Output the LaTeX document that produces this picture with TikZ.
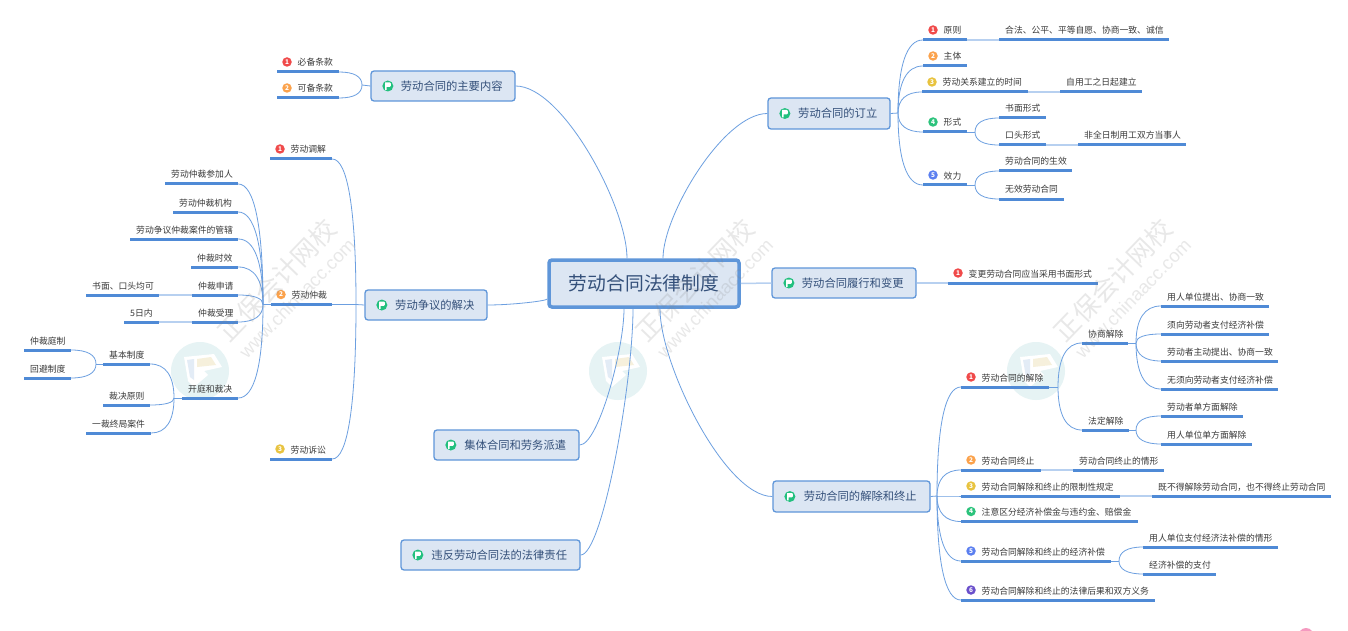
\documentclass[tikz,border=0pt]{standalone}
\usepackage{fontspec}
\usepackage{xcolor}
\usetikzlibrary{shapes,arrows,positioning,calc}
\setmainfont{Noto Sans CJK SC}
\newfontfamily\markfont{Liberation Sans}
\definecolor{barblue}{HTML}{4F8AD6}
\definecolor{linkblue}{HTML}{6C9FE0}
\definecolor{paleblue}{HTML}{B7D0F0}
\definecolor{topicfill}{HTML}{DCE6F3}
\definecolor{topicline}{HTML}{5F96D9}
\definecolor{topicink}{HTML}{34507A}
\definecolor{leafink}{HTML}{3A3A3A}
\definecolor{flaggreen}{HTML}{22C07E}
\definecolor{badge1}{HTML}{F04A4A}
\definecolor{badge2}{HTML}{FBA24C}
\definecolor{badge3}{HTML}{E8C33F}
\definecolor{badge4}{HTML}{2CC37C}
\definecolor{badge5}{HTML}{5B7FF0}
\definecolor{badge6}{HTML}{6A4FCB}
\definecolor{logoteal}{HTML}{E6F3F4}
\definecolor{logoblue}{HTML}{E3ECF6}
\definecolor{logosand}{HTML}{F6F0DC}
\definecolor{markpink}{HTML}{F59AC0}
\tikzset{
    x=1pt,y=-1pt,
    link/.style={linkblue,line width=0.8pt},
    palelink/.style={paleblue,line width=1.5pt},
    elbow/.style={to path={.. controls ($(\tikztostart)!0.65!(\tikztostart |- \tikztotarget)$) and ($(\tikztotarget)!0.65!(\tikztostart |- \tikztotarget)$) .. (\tikztotarget)}},
    softelbow/.style={to path={.. controls ($(\tikztostart)!0.3!(\tikztostart |- \tikztotarget)$) and ($(\tikztotarget)!0.42!(\tikztostart |- \tikztotarget)$) .. (\tikztotarget)}},
    leafbar/.style={fill=barblue,inner sep=0pt,minimum height=3pt},
    leaftext/.style={text=leafink,font=\fontsize{8.8}{9}\selectfont,inner sep=0pt,anchor=base west},
    badgedot/.style={circle,inner sep=0pt,minimum size=9.5pt,text=white,font=\fontsize{6.5}{6.5}\selectfont\bfseries},
    topicbox/.style={draw=topicline,fill=topicfill,rounded corners=3pt,line width=1.3pt,inner sep=0pt,text=topicink,font=\fontsize{11.3}{12}\selectfont},
    flagdot/.style={circle,fill=flaggreen,inner sep=0pt,minimum size=11pt},
}
\begin{document}
\begin{tikzpicture}
    \useasboundingbox (0,0) rectangle (1348,631);
    \fill[white] (0,0) rectangle (1348,631);
    % pale round logos behind everything
    \foreach \wm in {0,418,836}
    {
        \node[circle,fill=logoteal,inner sep=0pt,minimum size=58pt] (logo\wm) at (200+\wm,371) {};
        \fill[white,shift={(logo\wm)}] (-16,-14) -- (14,-17) -- (22,-4) -- (4,0) -- (8,4) -- (-6,16) -- (-12,10) -- cycle;
        \fill[logoblue,shift={(logo\wm)}] (-13,-11) -- (-6,-12) -- (-6,9) -- (-10,6) -- cycle;
        \fill[logosand,shift={(logo\wm)}] (-3,-12) -- (11,-14) -- (16,-6) -- (-3,-4) -- cycle;
    }
    % central topic
    \node[topicbox,line width=3.5pt,minimum width=190pt,minimum height=47pt,font=\fontsize{18.8}{20}\selectfont] (hub) at (644,283.5) {劳动合同法律制度};
    % main topics with flag icon
    \foreach \name/\xa/\xb/\ya/\yb/\txt in {
        sign/768/890/98/129/劳动合同的订立,
        change/772/916/268/298/劳动合同履行和变更,
        finish/773/930/481/512/劳动合同的解除和终止,
        terms/371/515/71/101/劳动合同的主要内容,
        dispute/365/487/290/320/劳动争议的解决,
        group/434/579/430/460/集体合同和劳务派遣,
        breach/401/580/540/570/违反劳动合同法的法律责任}
    {
        \node[topicbox,minimum width={(\xb-\xa)*1pt},minimum height={(\yb-\ya)*1pt}] (\name) at ({(\xa+\xb)/2},{(\ya+\yb)/2}) {\hspace*{17.5pt}\txt};
        \node[flagdot] (\name i) at ([xshift=17.5pt]\name.west) {};
        \fill[white,shift={(\name i)}] (-2.8,3.8) -- (-2.8,-3.5) -- (2,-3.5) .. controls (3.5,-3.5) and (3.5,0.8) .. (2,0.8) -- (-1.2,0.8) -- (-1.2,3.8) -- cycle;
    }
    % leaves without number
    \foreach \name/\xa/\xb/\yb/\txt in {
        signAa/999/1169/40/合法、公平、平等自愿、协商一致、诚信,
        signCa/1060/1142/92/自用工之日起建立,
        signDa/999/1046/118/书面形式,
        signDb/999/1046/145/口头形式,
        signDc/1078/1186/145/非全日制用工双方当事人,
        signEa/999/1072/171/劳动合同的生效,
        signEb/999/1064/199/无效劳动合同,
        armA/165/238/184/劳动仲裁参加人,
        armB/173/238/212/劳动仲裁机构,
        armC/130/238/239/劳动争议仲裁案件的管辖,
        armD/191/238/267/仲裁时效,
        armE/192/238/295/仲裁申请,
        armEa/86/159/295/书面、口头均可,
        armF/192/238/322/仲裁受理,
        armFa/124/159/322/5日内,
        armG/182/238/398/开庭和裁决,
        armGa/103/150/364/基本制度,
        armGb/103/150/405/裁决原则,
        armGc/86/151/433/一裁终局案件,
        armGd/24/71/350/仲裁庭制,
        armGe/24/71/378/回避制度,
        talk/1082/1128/343/协商解除,
        legal/1082/1129/430/法定解除,
        talkA/1161/1269/306/用人单位提出、协商一致,
        talkB/1161/1269/334/须向劳动者支付经济补偿,
        talkC/1161/1278/361/劳动者主动提出、协商一致,
        talkD/1161/1278/389/无须向劳动者支付经济补偿,
        legalA/1161/1243/416/劳动者单方面解除,
        legalB/1161/1252/444/用人单位单方面解除,
        endA/1073/1164/470/劳动合同终止的情形,
        limitA/1152/1331/496/既不得解除劳动合同，也不得终止劳动合同,
        payA/1143/1278/547/用人单位支付经济法补偿的情形,
        payB/1143/1216/574/经济补偿的支付}
    {
        \node[leafbar,minimum width={(\xb-\xa)*1pt}] (\name) at ({(\xa+\xb)/2},\yb) {};
        \node[leaftext] (\name t) at ({\xa+6},{\yb-6}) {\txt};
    }
    % leaves with a number badge
    \foreach \name/\xa/\xb/\yb/\num/\txt in {
        signA/923/967/40/1/原则,
        signB/923/967/66/2/主体,
        signC/922/1028/92/3/劳动关系建立的时间,
        signD/923/967/132/4/形式,
        signE/923/967/185/5/效力,
        changeA/948/1098/283/1/变更劳动合同应当采用书面形式,
        termsA/277/339/72/1/必备条款,
        termsB/277/339/98/2/可备条款,
        mediate/270/332/159/1/劳动调解,
        arbitrate/271/332/304.5/2/劳动仲裁,
        sue/270/332/459/3/劳动诉讼,
        finishA/961/1049/387/1/劳动合同的解除,
        finishB/961/1041/470/2/劳动合同终止,
        finishC/961/1120/496/3/劳动合同解除和终止的限制性规定,
        finishD/961/1138/521.5/4/注意区分经济补偿金与违约金、赔偿金,
        finishE/961/1111/561/5/劳动合同解除和终止的经济补偿,
        finishF/961/1155/600/6/劳动合同解除和终止的法律后果和双方义务}
    {
        \node[leafbar,minimum width={(\xb-\xa)*1pt}] (\name) at ({(\xa+\xb)/2},\yb) {};
        \node[leaftext] (\name t) at ({\xa+20.5},{\yb-6}) {\txt};
        \node[badgedot,fill=badge\num] (\name n) at ({\xa+10},{\yb-10}) {\num};
    }
    % places where the curves split
    \coordinate (fanSign) at (898,113);
    \coordinate (fanForm) at (975,132);
    \coordinate (fanEffect) at (975,185);
    \coordinate (fanFinish) at (937,496);
    \coordinate (fanEnd) at (1058,387);
    \coordinate (fanTalk) at (1136,343);
    \coordinate (fanLegal) at (1136,430);
    \coordinate (fanPay) at (1119,561);
    \coordinate (fanTerms) at (362,85);
    \coordinate (fanDispute) at (356,304.5);
    \coordinate (fanArb) at (263,304.5);
    \coordinate (fanHear) at (174,398);
    \coordinate (fanBase) at (96,364);
    % curves from the central topic
    \coordinate (hubNW) at ([xshift=-17pt]hub.north);
    \coordinate (hubNE) at ([xshift=19pt]hub.north);
    \coordinate (hubW) at ([yshift=-15.5pt]hub.west);
    \coordinate (hubSA) at ([xshift=-20pt]hub.south);
    \coordinate (hubSB) at ([xshift=-11pt]hub.south);
    \coordinate (hubSC) at ([xshift=16pt]hub.south);
    \draw[link] (hubNW) to[softelbow] (terms.east);
    \draw[link] (hubNE) to[softelbow] (sign.west);
    \draw[link] (hubW) to[softelbow] (dispute.east);
    \draw[link] (hubSA) to[softelbow] (group.east);
    \draw[link] (hubSB) to[softelbow] (breach.east);
    \draw[link] (hubSC) to[softelbow] (finish.west);
    \draw[palelink] (hub.east) -- (change.west);
    % straight bits into the split points
    \draw[link] (sign.east) -- (fanSign);
    \draw[link] (finish.east) -- (fanFinish);
    \draw[link] (terms.west) -- (fanTerms);
    \draw[link] (dispute.west) -- (fanDispute);
    \draw[link] (arbitrate.west) -- (fanArb);
    \draw[link] (signD.east) -- (fanForm);
    \draw[link] (signE.east) -- (fanEffect);
    \draw[link] (finishA.east) -- (fanEnd);
    \draw[link] (talk.east) -- (fanTalk);
    \draw[link] (legal.east) -- (fanLegal);
    \draw[link] (finishE.east) -- (fanPay);
    \draw[link] (armG.west) -- (fanHear);
    \draw[link] (armGa.west) -- (fanBase);
    % curves going right
    \foreach \fan/\leaf in {fanSign/signA,fanSign/signB,fanSign/signC,fanSign/signD,fanSign/signE,
        fanForm/signDa,fanForm/signDb,fanEffect/signEa,fanEffect/signEb,
        fanFinish/finishA,fanFinish/finishB,fanFinish/finishC,fanFinish/finishD,fanFinish/finishE,fanFinish/finishF,
        fanEnd/talk,fanEnd/legal,fanTalk/talkA,fanTalk/talkB,fanTalk/talkC,fanTalk/talkD,
        fanLegal/legalA,fanLegal/legalB,fanPay/payA,fanPay/payB}
    {
        \draw[link] (\fan) to[elbow] (\leaf.west);
    }
    % curves going left
    \foreach \fan/\leaf in {fanTerms/termsA,fanTerms/termsB,fanDispute/mediate,fanDispute/arbitrate,fanDispute/sue,
        fanArb/armA,fanArb/armB,fanArb/armC,fanArb/armD,fanArb/armE,fanArb/armF,fanArb/armG,
        fanHear/armGa,fanHear/armGb,fanHear/armGc,fanBase/armGd,fanBase/armGe}
    {
        \draw[link] (\fan) to[elbow] (\leaf.east);
    }
    % pale joins between a leaf and its single child
    \foreach \one/\two in {signA/signAa,signC/signCa,signDb/signDc,change/changeA,finishB/endA,finishC/limitA,armEa/armE,armFa/armF}
    {
        \draw[palelink] (\one.east) -- (\two.west);
    }
    % watermarks over the drawing
    \foreach \wm in {0,418,836}
    {
        \node[rotate=46,text=gray,opacity=0.18,font=\fontsize{26}{28}\selectfont] (mark\wm) at (277+\wm,280) {正保会计网校};
        \node[rotate=46,text=gray,opacity=0.18,font=\markfont\fontsize{18.5}{19}\selectfont] (site\wm) at (297+\wm,298) {www.chinaacc.com};
    }
    % cut off shape at the bottom edge
    \fill[markpink] (1300,631) .. controls (1303,627) and (1309,627) .. (1312,631) -- cycle;
\end{tikzpicture}
\end{document}
